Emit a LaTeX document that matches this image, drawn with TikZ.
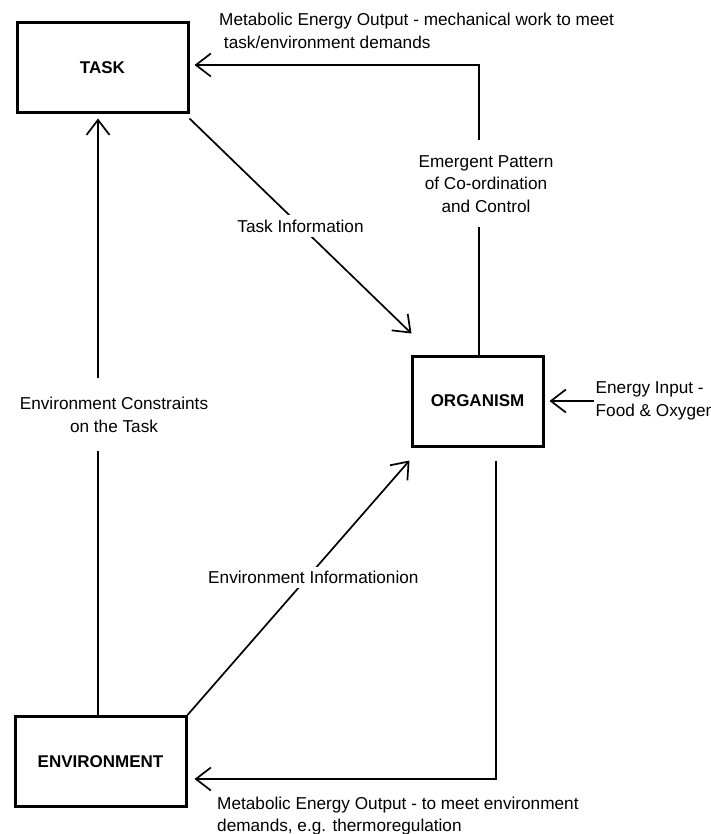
\documentclass[tikz,border=0pt]{standalone}
\usepackage{fontspec}
\setmainfont{Liberation Sans}
\usetikzlibrary{arrows.meta, positioning, calc}
\tikzset{
    box/.style={
        rectangle,
        draw,
        line width=3pt,
        minimum width=171pt,
        minimum height=90pt,
        font=\bfseries\fontsize{17}{20}\selectfont
    },
    lbl/.style={align=center, font=\fontsize{17.2}{22.5}\selectfont, inner sep=2pt},
    gap/.style={lbl, fill=white},
    arrow/.style={-{Straight Barb[length=15pt,width=23pt]}, line width=1.7pt}
}
\begin{document}
\begin{tikzpicture}[x=1pt, y=-1pt]
    \useasboundingbox (0,0) rectangle (711,834);
    % Nodes
    \node[box] (task) at (102.5,68) {TASK};
    \node[box, minimum width=131pt] (org) at (477.5,401) {ORGANISM};
    \node[box] (env) at (100.5,761.5) {ENVIRONMENT};
    \node[lbl, align=left, right=49pt of org] (energy) {Energy Input -\\Food \& Oxygen};
    \node[lbl, align=left, anchor=north west] (outtop) at (217,11)
        {Metabolic Energy Output - mechanical work to meet\\\ task/environment demands};
    \node[lbl, align=left, anchor=north west] (outlow) at (215,794.6)
        {Metabolic Energy Output - to meet environment\\demands, e.g. thermoregulation};
    \coordinate (topbend) at (479,65);
    \coordinate (lowbend) at (496,779);
    \coordinate (leftrail) at (98,0);

    % Arrows
    \draw[arrow, shorten >=5pt] (org.north -| topbend) -- node[gap, pos=0.59, xshift=7pt, inner ysep=15pt]
        {Emergent Pattern\\of Co-ordination\\and Control} (topbend) -- (task.east |- topbend);
    \draw[arrow] ([yshift=-4pt]task.south east) -- node[gap, inner ysep=4.5pt] {Task Information}
        ([shift={(1,-21)}]org.north west);
    \draw[arrow, shorten >=4pt] (env.north -| leftrail) -- node[gap, xshift=16pt, inner ysep=19pt]
        {Environment Constraints\\on the Task} (task.south -| leftrail);
    \draw[arrow] (env.north east) -- node[gap, pos=0.54, xshift=6pt, inner ysep=4.5pt]
        {Environment Informationion} ([shift={(-1,13)}]org.south west);
    \draw[arrow, shorten >=5pt] (energy.west) -- (org.east |- energy.west);
    \draw[arrow, shorten <=13pt, shorten >=7pt] (org.south -| lowbend) -- (lowbend) -- (env.east |- lowbend);
\end{tikzpicture}
\end{document}
